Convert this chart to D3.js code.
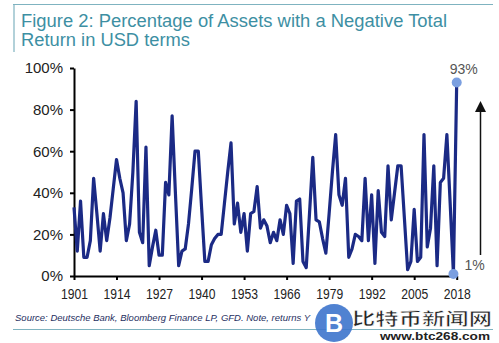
<!DOCTYPE html>
<html><head><meta charset="utf-8">
<script src="https://cdn.jsdelivr.net/npm/d3@7"></script>
<style>body{margin:0;background:#fff}svg{display:block}</style>
</head><body>
<svg id="c" width="499" height="343"></svg>
<script>
const years = [1901,1902,1903,1904,1905,1906,1907,1908,1909,1910,1911,1912,1913,1914,1915,1916,1917,1918,1919,1920,
1921,1922,1923,1924,1925,1926,1927,1928,1929,1930,1931,1932,1933,1934,1935,1936,1937,1938,1939,1940,
1941,1942,1943,1944,1945,1946,1947,1948,1949,1950,1951,1952,1953,1954,1955,1956,1957,1958,1959,1960,
1961,1962,1963,1964,1965,1966,1967,1968,1969,1970,1971,1972,1973,1974,1975,1976,1977,1978,1979,1980,
1981,1982,1983,1984,1985,1986,1987,1988,1989,1990,1991,1992,1993,1994,1995,1996,1997,1998,1999,2000,
2001,2002,2003,2004,2005,2006,2007,2008,2009,2010,2011,2012,2013,2014,2015,2016,2017,2018];
const negShare = [33,12,36,9,9,17,47,30,12,30,17,28,42,56,47,40,17,25,50,84,
21,16,62,5,14,22,10,10,45,39,77,40,5,12,13,25,42,60,60,33,
7,7,15,18,20,20,35,50,64,25,35,21,30,12,30,31,43,23,27,24,
16,21,17,27,20,34,30,6,36,37,7,4,30,57,27,26,18,11,30,50,
68,39,34,47,9,13,20,19,17,47,17,39,6,41,21,19,53,27,40,53,
53,28,3,7,32,7,9,68,14,23,53,5,45,47,68,35,1,93];
const yTicks = [0,20,40,60,80,100];
const xTicks = [1901,1914,1927,1940,1953,1966,1979,1992,2005,2018];
const titleLines = ["Figure 2: Percentage of Assets with a Negative Total","Return in USD terms"];
const sourceText = "Source: Deutsche Bank, Bloomberg Finance LP, GFD. Note, returns Y";
const highlightYears = [2017, 2018];
const highlightLabels = ["1%", "93%"];

const svg = d3.select("#c");
const x = d3.scaleLinear().domain([1901, 2018]).range([74, 456.7]);
const y = d3.scaleLinear().domain([0, 100]).range([276, 68]);
const data = years.map((yr, i) => ({year: yr, v: negShare[i]}));

// frame lines
const teal = "#3d8fa3";
svg.append("line").attr("x1",13).attr("x2",493).attr("y1",4.5).attr("y2",4.5).attr("stroke","#7fb3c0").attr("stroke-width",1.2);
svg.append("line").attr("x1",14).attr("x2",14).attr("y1",4).attr("y2",52).attr("stroke","#7fb3c0").attr("stroke-width",1.2);
svg.append("line").attr("x1",13).attr("x2",493).attr("y1",329.5).attr("y2",329.5).attr("stroke","#7fb3c0").attr("stroke-width",1.2);

// title
const tl = [426, 169];
titleLines.forEach((t, i) => {
  svg.append("text").attr("x",21).attr("y",27 + i*19).text(t)
    .attr("font-family","Liberation Sans, Arial, sans-serif").attr("font-size",17.5)
    .attr("fill",teal).attr("textLength",tl[i]).attr("lengthAdjust","spacingAndGlyphs");
});

// axes
const yAxis = d3.axisLeft(y).tickValues(yTicks).tickFormat(d => d + "%").tickSize(4).tickSizeOuter(0).tickPadding(7);
const gy = svg.append("g").attr("transform","translate(74,0)").call(yAxis);
gy.select(".domain").attr("stroke","#000").attr("stroke-width",2);
gy.selectAll(".tick line").attr("stroke","#000").attr("stroke-width",2);
gy.selectAll("text").attr("font-family","Liberation Sans, Arial, sans-serif").attr("font-size",15).attr("fill","#222");

const xAxis = d3.axisBottom(x).tickValues(xTicks).tickFormat(d3.format("d")).tickSize(4).tickSizeOuter(0).tickPadding(8);
const gx = svg.append("g").attr("transform","translate(0,276)").call(xAxis);
gx.select(".domain").attr("stroke","#000").attr("stroke-width",2);
gx.selectAll(".tick line").attr("stroke","#000").attr("stroke-width",2);
gx.selectAll("text").attr("font-family","Liberation Sans, Arial, sans-serif").attr("font-size",15).attr("fill","#222")
  .attr("textLength",27).attr("lengthAdjust","spacingAndGlyphs");

// line
const line = d3.line().x(d => x(d.year)).y(d => y(d.v));
svg.append("path").datum(data).attr("d", line).attr("fill","none")
  .attr("stroke","#1b2a85").attr("stroke-width",3.2).attr("stroke-linejoin","round");

// highlight dots
const hl = data.filter(d => highlightYears.includes(d.year));
svg.selectAll("circle.hl").data(hl).enter().append("circle").attr("class","hl")
  .attr("cx", d => x(d.year)).attr("cy", d => y(d.v)).attr("r",5).attr("fill","#7b9fe0");
hl.forEach(d => {
  const lab = highlightLabels[highlightYears.indexOf(d.year)];
  const top = d.v > 50;
  svg.append("text").attr("x", top ? x(d.year) - 7 : x(d.year) + 11).attr("y", top ? y(d.v) - 9 : y(d.v) - 4)
    .text(lab).attr("font-family","Liberation Sans, Arial, sans-serif").attr("font-size",14).attr("fill","#555");
});

// arrow
svg.append("line").attr("x1",480.5).attr("x2",480.5).attr("y1",255).attr("y2",110).attr("stroke","#111").attr("stroke-width",1.5);
svg.append("path").attr("d","M475,112 L480.5,101 L486,112 Z").attr("fill","#111");

// source
svg.append("text").attr("x",15).attr("y",321).text(sourceText)
  .attr("font-family","Liberation Sans, Arial, sans-serif").attr("font-style","italic").attr("font-size",8.8).attr("fill","#1f2f5f")
  .attr("textLength",295).attr("lengthAdjust","spacingAndGlyphs");

// watermark
const wm = svg.append("g");
wm.append("circle").attr("cx",334).attr("cy",323).attr("r",19).attr("fill","#3d74cc").attr("opacity",0.9);
wm.append("text").attr("x",334).attr("y",332).attr("text-anchor","middle").text("B")
  .attr("font-family","Liberation Sans, Arial, sans-serif").attr("font-weight","bold").attr("font-size",25).attr("fill","#fff");
wm.append("text").attr("x",352).attr("y",324.5).text("比特币新闻网")
  .attr("font-family","Noto Sans CJK SC").attr("font-weight","bold").attr("font-size",17).attr("fill","#222")
  .attr("stroke","#fff").attr("stroke-width",0.6).attr("textLength",140).attr("lengthAdjust","spacingAndGlyphs");
wm.append("text").attr("x",380).attr("y",340).text("www.btc268.com")
  .attr("font-family","Liberation Sans, Arial, sans-serif").attr("font-weight","bold").attr("font-size",11).attr("fill","#222")
  .attr("textLength",110).attr("lengthAdjust","spacingAndGlyphs");
</script>
</body></html>
